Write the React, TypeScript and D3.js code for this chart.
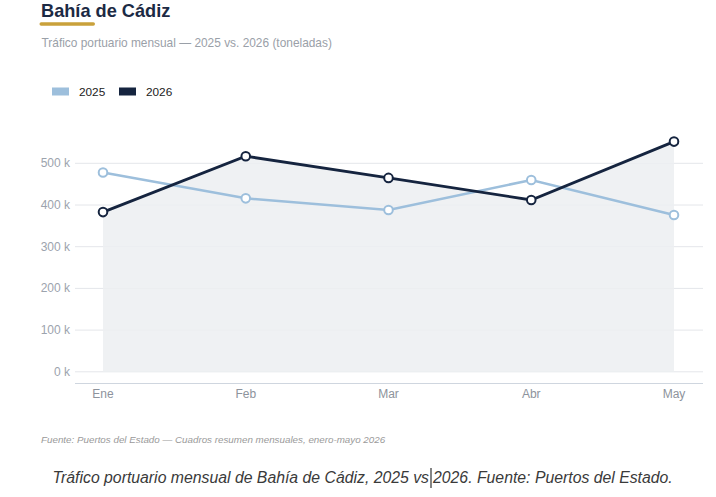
import React from "react";
import * as d3 from "d3";

const months = ["Ene", "Feb", "Mar", "Abr", "May"];
const values2025 = [478, 416, 388, 460, 376];
const values2026 = [383, 517, 465, 412, 552];
const yTicks = [0, 100, 200, 300, 400, 500];
const seriesNames = ["2025", "2026"];

const W = 716;
const H = 497;
const FONT = "'Liberation Sans', Arial, Helvetica, sans-serif";
const C2025 = "#9dbfdc";
const C2026 = "#15243f";

export default function App() {
  const x = d3.scalePoint<string>().domain(months).range([103, 674]);
  const y = d3.scaleLinear().domain([0, 500]).range([371.8, 163.3]);
  const gridX0 = 75;
  const gridX1 = 703;
  const axisY = 383.5;

  const d25 = months.map((m, i) => ({ m, v: values2025[i] }));
  const d26 = months.map((m, i) => ({ m, v: values2026[i] }));

  const line = d3
    .line<{ m: string; v: number }>()
    .x((d) => x(d.m) as number)
    .y((d) => y(d.v));
  const area = d3
    .area<{ m: string; v: number }>()
    .x((d) => x(d.m) as number)
    .y0(y(0))
    .y1((d) => y(d.v));

  const caretX = 431;

  return (
    <svg
      width={W}
      height={H}
      style={{ position: "absolute", left: 0, top: 0, background: "#fff" }}
      fontFamily={FONT}
    >
      {/* header */}
      <text x={41} y={17} fontSize={18.2} fontWeight={700} fill="#1c2a44">
        Bahía de Cádiz
      </text>
      <rect x={39.5} y={22.3} width={55.5} height={3.5} rx={1.7} fill="#c9a13b" />
      <text x={41.5} y={47} fontSize={11.9} fill="#9aa0a8">
        Tráfico portuario mensual — 2025 vs. 2026 (toneladas)
      </text>

      {/* legend */}
      {seriesNames.map((s, i) => (
        <g key={s} transform={`translate(${52 + i * 67},0)`}>
          <rect x={0} y={87.5} width={17} height={8} fill={i === 0 ? C2025 : C2026} />
          <text x={27} y={96} fontSize={11.8} fill="#222">
            {s}
          </text>
        </g>
      ))}

      {/* grid + y ticks */}
      {yTicks.map((t) => (
        <g key={t}>
          <line x1={gridX0} x2={gridX1} y1={y(t)} y2={y(t)} stroke="#e4e6ea" strokeWidth={1} />
          <text x={70} y={y(t) + 4} fontSize={12} textAnchor="end" fill="#9ca3ad">
            {`${t} k`}
          </text>
        </g>
      ))}

      {/* area under 2026 */}
      <path d={area(d26) || ""} fill="#eceef1" fillOpacity={0.85} />

      {/* x axis */}
      <line x1={gridX0} x2={gridX1} y1={axisY} y2={axisY} stroke="#cfd6df" strokeWidth={1.2} />
      {months.map((m) => (
        <text key={m} x={x(m)} y={398} fontSize={12} textAnchor="middle" fill="#8d939c">
          {m}
        </text>
      ))}

      {/* series */}
      <path d={line(d25) || ""} fill="none" stroke={C2025} strokeWidth={2.5} />
      <path d={line(d26) || ""} fill="none" stroke={C2026} strokeWidth={2.8} />
      {d25.map((d) => (
        <circle key={"a" + d.m} cx={x(d.m)} cy={y(d.v)} r={4.3} fill="#fff" stroke={C2025} strokeWidth={2} />
      ))}
      {d26.map((d) => (
        <circle key={"b" + d.m} cx={x(d.m)} cy={y(d.v)} r={4.3} fill="#fff" stroke={C2026} strokeWidth={2} />
      ))}

      {/* source note */}
      <text x={41} y={443} fontSize={9.8} fontStyle="italic" fill="#9a9a9a">
        Fuente: Puertos del Estado — Cuadros resumen mensuales, enero-mayo 2026
      </text>

      {/* caption */}
      <text x={caretX - 2} y={483} fontSize={15.8} fontStyle="italic" textAnchor="end" fill="#3a3a3a">
        Tráfico portuario mensual de Bahía de Cádiz, 2025 vs
      </text>
      <line x1={caretX} x2={caretX} y1={468} y2={488} stroke="#333" strokeWidth={1.2} />
      <text x={caretX + 2} y={483} fontSize={15.8} fontStyle="italic" fill="#3a3a3a">
        2026. Fuente: Puertos del Estado.
      </text>
    </svg>
  );
}
